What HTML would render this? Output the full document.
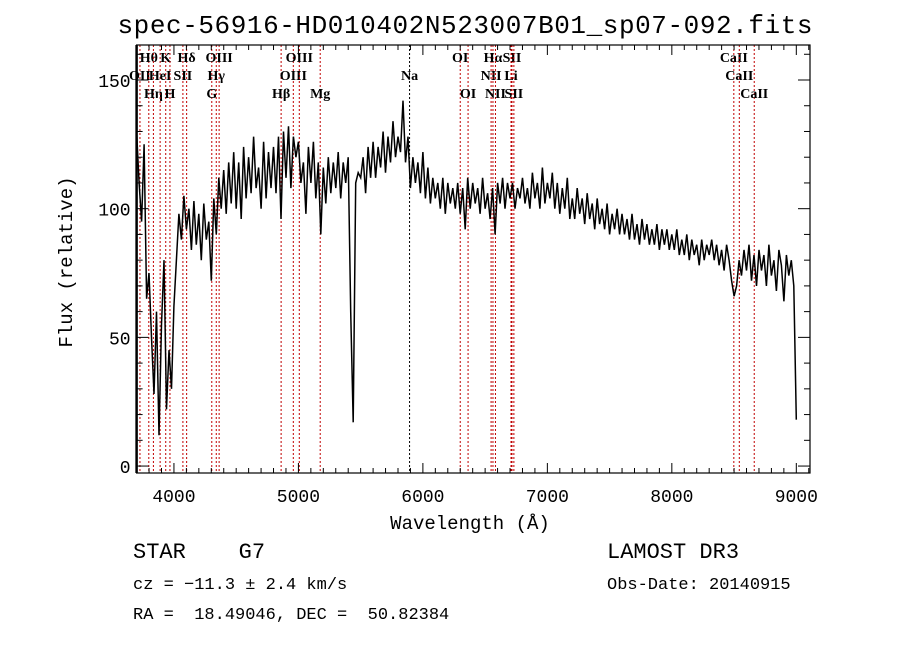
<!DOCTYPE html>
<html><head><meta charset="utf-8"><style>
body{margin:0;background:#fff}
svg{display:block}
text{font-family:"Liberation Mono","DejaVu Sans Mono",monospace;fill:#000}
.lab{font-family:"Liberation Serif",serif;font-size:14px;font-weight:bold}
</style></head><body>
<svg id="chart" width="900" height="649" viewBox="0 0 900 649">
<rect width="900" height="649" fill="#fff"/>
<text x="465" y="33" font-size="26" text-anchor="middle" textLength="695">spec-56916-HD010402N523007B01_sp07-092.fits</text>
<g id="lines"></g>
<g id="series"></g>
<g id="axes"></g>
<text x="470" y="529" font-size="19" text-anchor="middle">Wavelength (Å)</text>
<text transform="translate(72,262) rotate(-90)" font-size="19" text-anchor="middle">Flux (relative)</text>
<text x="133" y="558" font-size="22" xml:space="preserve">STAR    G7</text>
<text x="607" y="558" font-size="22">LAMOST DR3</text>
<text x="133" y="589" font-size="17">cz = −11.3 ± 2.4 km/s</text>
<text x="607" y="589" font-size="17">Obs-Date: 20140915</text>
<text x="133" y="619" font-size="17" xml:space="preserve">RA =  18.49046, DEC =  50.82384</text>
</svg>
<script>
const wlStart = 3700, wlStep = 20;
const flux = [130,110,95,125,65,75,50,28,60,12,55,80,22,45,30,
62,80,98,88,105,92,100,84,103,86,98,80,102,88,95,72,104,90,112,100,
115,98,118,102,122,100,118,96,124,104,120,106,128,108,116,100,126,104,122,108,
124,106,128,96,130,112,132,108,128,120,126,110,118,98,124,110,126,104,118,90,
116,102,120,106,118,108,122,104,118,110,120,60,17,110,114,112,120,106,124,112,
126,112,124,116,130,114,128,118,134,120,128,122,142,118,128,108,120,110,118,106,
122,104,116,102,112,104,110,100,112,98,110,102,108,100,110,98,108,92,112,100,
110,102,108,98,112,100,106,96,108,90,110,102,112,100,110,104,110,100,108,104,
112,102,108,100,114,104,110,100,116,102,110,104,114,100,110,98,108,100,112,96,
104,96,108,98,104,94,106,96,102,92,104,94,100,92,102,90,98,92,100,90,
98,90,96,88,98,88,94,86,96,88,94,86,92,86,94,84,92,86,92,84,
90,84,92,82,88,82,90,80,88,82,86,78,88,80,86,82,88,80,86,78,
84,76,86,80,72,66,70,80,74,84,
76,86,72,82,70,84,76,82,70,86,74,80,68,84,78,64,82,74,80,70,
18];
const lineWl = [3727,3798,3835,3889,3934,3968,4072,4102,4304,4340,4363,4861,4959,5007,5175,5893,6300,6363,6548,6563,6583,6708,6716,6731,8498,8542,8662];
const lineLabels = ["OII","Hθ","Hη","HeI","K","H","SII","Hδ","G","Hγ","OIII","Hβ","OIII","OIII","Mg","Na","OI","OI","NII","Hα","NII","Li","SII","SII","CaII","CaII","CaII"];
const lineRows = [2,1,3,2,1,3,2,1,3,2,1,3,2,1,3,2,1,3,2,1,3,2,1,3,1,2,3];
const xTicks = [4000,5000,6000,7000,8000,9000];
const yTicks = [0,50,100,150];

const L=136.6,R=810,T=45,B=473;
const xMin=3700,xMax=9110,yMin=-2.7,yMax=163.6;
const X=w=>L+(w-xMin)/(xMax-xMin)*(R-L);
const Y=v=>B-(v-yMin)/(yMax-yMin)*(B-T);
const NS="http://www.w3.org/2000/svg";
function mk(tag,parent,attrs){const e=document.createElementNS(NS,tag);for(const k in attrs)e.setAttribute(k,attrs[k]);parent.appendChild(e);return e;}

const gl=document.getElementById('lines');
lineWl.forEach((w,i)=>{
  const ln=mk('line',gl,{x1:X(w),x2:X(w),y1:T,y2:B,stroke:lineLabels[i]==="Na"?"#000":"#c00000","stroke-width":1,"stroke-dasharray":"2,2"});
  
  
  const t=mk('text',gl,{x:X(w),y:[0,62,80,98][lineRows[i]],"text-anchor":"middle",class:"lab"});
  t.textContent=lineLabels[i];
  
  
});

const gs=document.getElementById('series');
const pts=flux.map((v,i)=>X(wlStart+i*wlStep).toFixed(1)+','+Y(v).toFixed(1)).join(' ');
const pl=mk('polyline',gs,{points:pts,fill:"none",stroke:"#000","stroke-width":1.5});



const ga=document.getElementById('axes');
const fr=mk('rect',ga,{x:L,y:T,width:R-L,height:B-T,fill:"none",stroke:"#000","stroke-width":1.2});


mk('line',ga,{x1:L,x2:L,y1:T,y2:B,stroke:"#000","stroke-width":2.5});
for(let w=3700;w<=xMax;w+=100){
  const len=(w%1000===0)?10:5;
  mk('line',ga,{x1:X(w),x2:X(w),y1:B,y2:B-len,stroke:"#000"});
  mk('line',ga,{x1:X(w),x2:X(w),y1:T,y2:T+len,stroke:"#000"});
}
for(let v=0;v<=160;v+=10){
  const len=(v%50===0)?12:6;
  mk('line',ga,{x1:L,x2:L+len,y1:Y(v),y2:Y(v),stroke:"#000"});
  mk('line',ga,{x1:R,x2:R-len,y1:Y(v),y2:Y(v),stroke:"#000"});
}
xTicks.forEach(w=>{
  const t=mk('text',ga,{x:X(w),y:502,"font-size":18,"text-anchor":"middle"});
  t.textContent=w;
  
  
});
yTicks.forEach(v=>{
  const t=mk('text',ga,{x:L-6,y:Y(v)+7,"font-size":18,"text-anchor":"end"});
  t.textContent=v;
  
  
});
</script>
</body></html>
